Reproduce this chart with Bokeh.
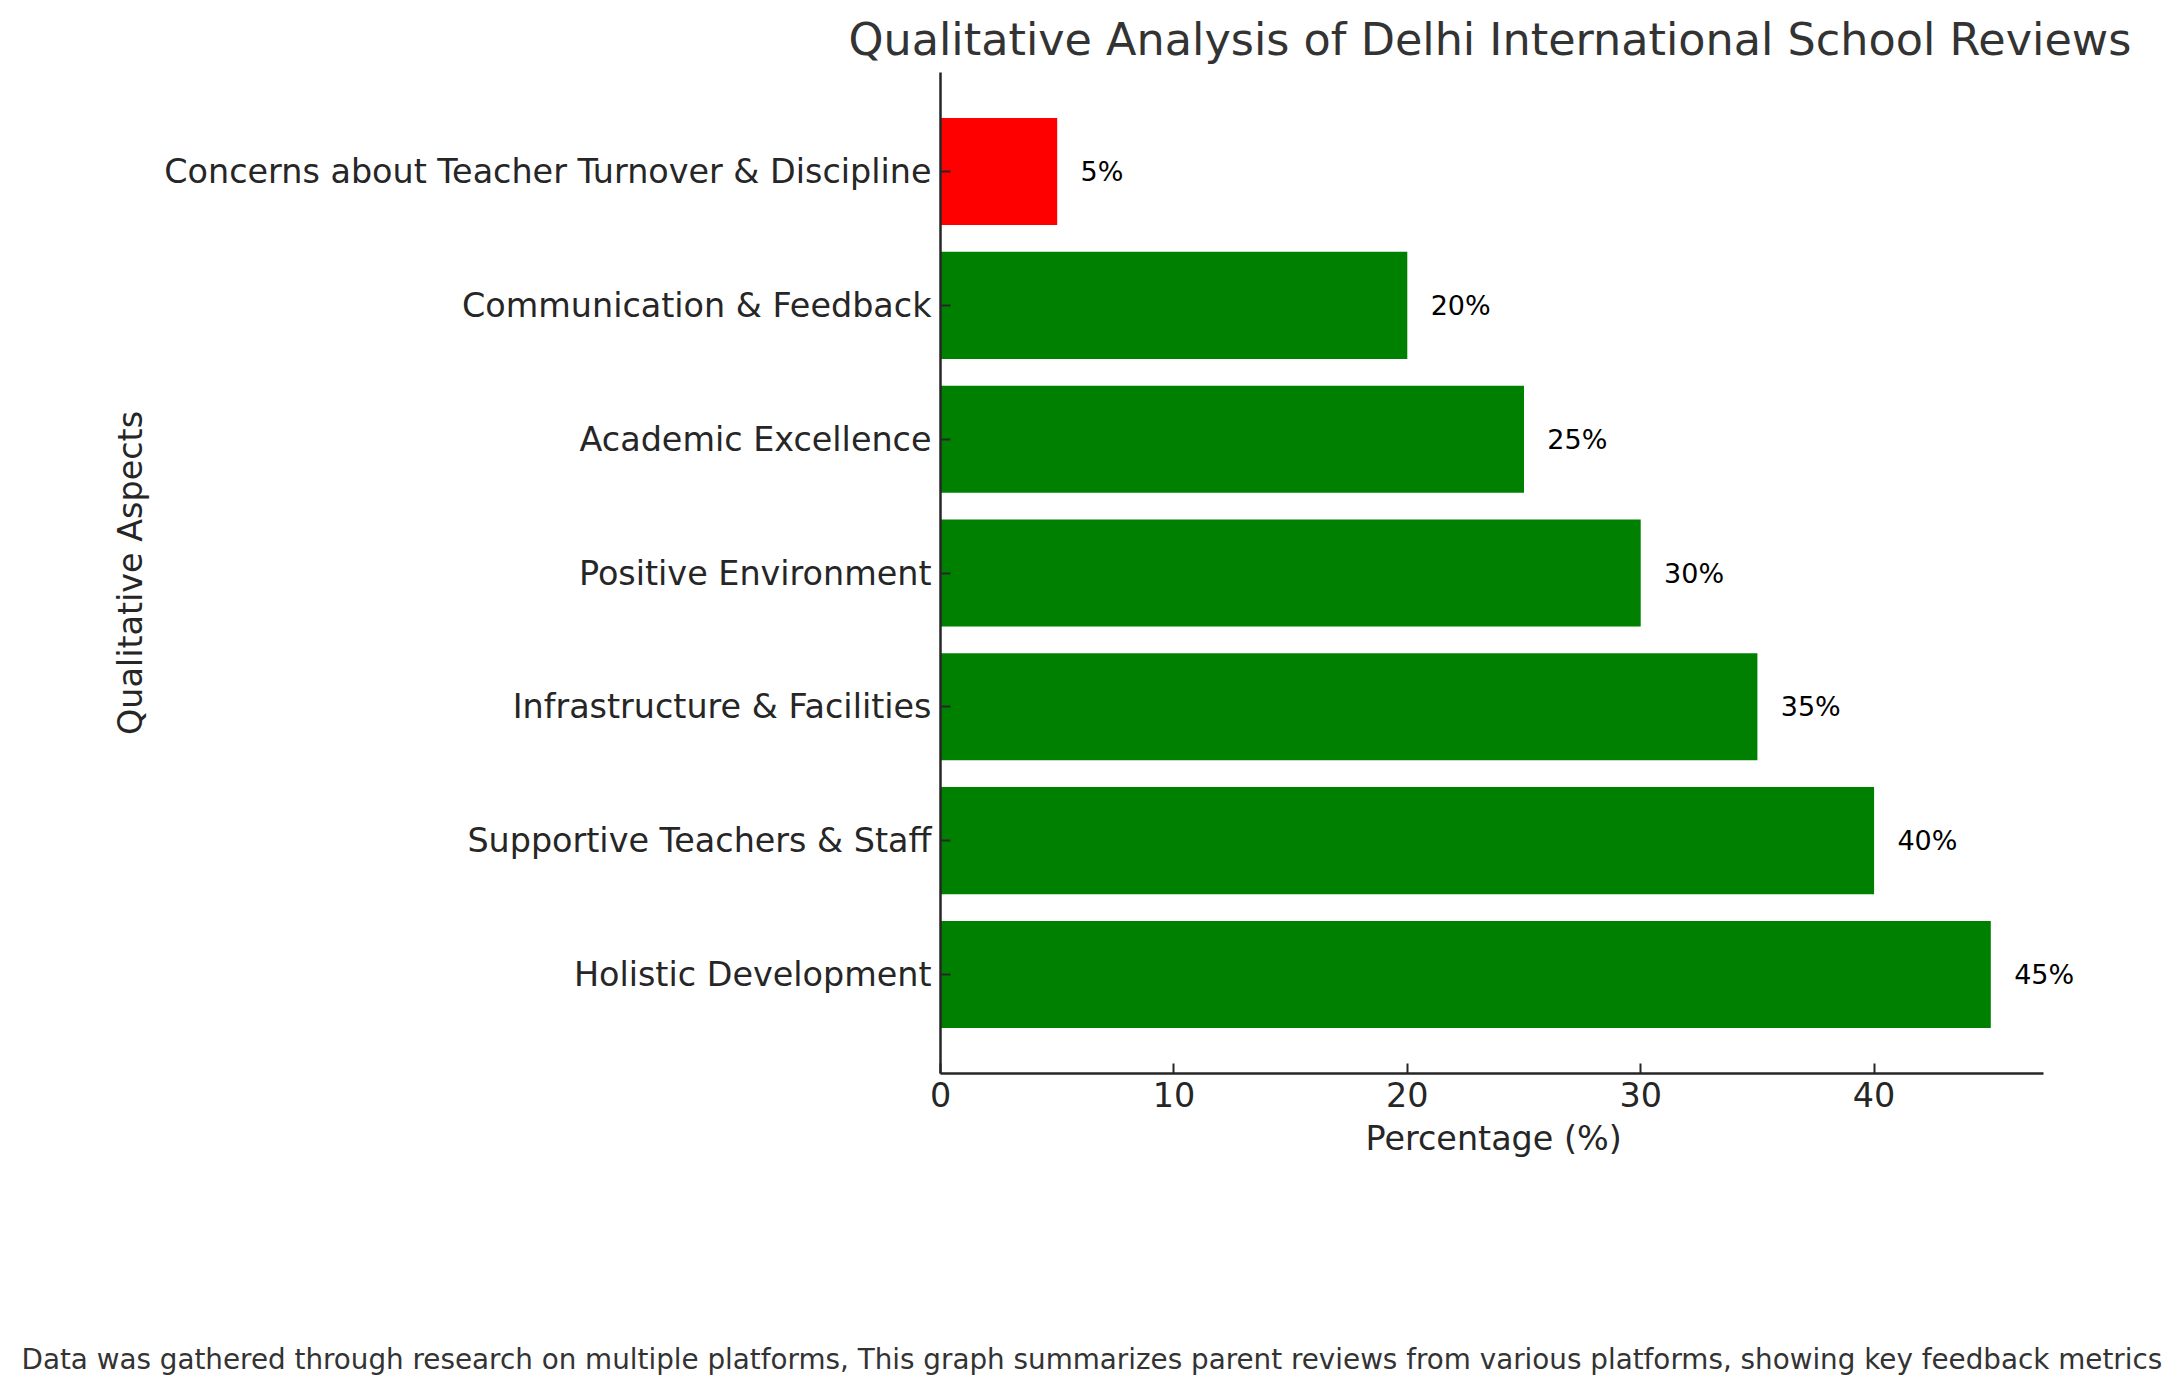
from bokeh.plotting import figure
from bokeh.models import ColumnDataSource, Range1d, FixedTicker, LinearAxis, Title
from bokeh.core.properties import value
from bokeh.embed import file_html
from bokeh.resources import INLINE

# ---- data (bottom to top) ----
categories = [
    "Holistic Development",
    "Supportive Teachers & Staff",
    "Infrastructure & Facilities",
    "Positive Environment",
    "Academic Excellence",
    "Communication & Feedback",
    "Concerns about Teacher Turnover & Discipline",
]
percentages = [45, 40, 35, 30, 25, 20, 5]
bar_colors = ["green", "green", "green", "green", "green", "green", "red"]
x_ticks = [0, 10, 20, 30, 40]

title_text = "Qualitative Analysis of Delhi International School Reviews"
x_label = "Percentage (%)"
y_label = "Qualitative Aspects"
footnote = ("Data was gathered through research on multiple platforms, This graph summarizes "
            "parent reviews from various platforms, showing key feedback metrics")

FONT = "DejaVu Sans"
DARK = "#262626"
TICK_FS = "33.4px"

positions = list(range(len(categories)))
src = ColumnDataSource(dict(
    y=positions,
    value=percentages,
    color=["#008000" if c == "green" else "#ff0000" for c in bar_colors],
    label=[f"{v}%" for v in percentages],
    label_x=[v + 1 for v in percentages],
))

W, H = 2179, 1396
X_END = 50          # frame extends a little past the axis so labels are not clipped
AXIS_END = 47.25    # visible extent of the x axis
FRAME_LEFT = 940
p = figure(width=W, height=H, output_backend="svg", toolbar_location=None,
           x_range=Range1d(0, X_END), y_range=Range1d(-0.74, 6.74),
           min_border_left=FRAME_LEFT, min_border_right=72,
           min_border_top=72, min_border_bottom=323)

p.hbar(y="y", right="value", left=0, height=0.8, fill_color="color",
       line_color=None, source=src)
p.text(x="label_x", y="y", text="label", source=src, text_align="left",
       text_baseline="middle", text_font=value(FONT), text_font_size="27px",
       text_color="black")

# title (left aligned with an offset so it is centred over the visible axis)
p.title.text = title_text
p.title.align = "left"
p.title.offset = 848 - FRAME_LEFT
p.title.text_font = FONT
p.title.text_font_size = "44.5px"
p.title.text_font_style = "normal"
p.title.text_color = "#333333"
p.title.standoff = 16

# axes
for ax in (p.xaxis[0], p.yaxis[0]):
    ax.axis_line_color = DARK
    ax.axis_line_width = 2.5
    ax.major_tick_line_color = DARK
    ax.major_tick_line_width = 2
    ax.major_tick_in = 10
    ax.major_tick_out = 0
    ax.minor_tick_line_color = None
    ax.major_label_text_font = FONT
    ax.major_label_text_font_size = TICK_FS
    ax.major_label_text_color = DARK
    ax.axis_label_text_font = FONT
    ax.axis_label_text_font_size = TICK_FS
    ax.axis_label_text_font_style = "normal"
    ax.axis_label_text_color = DARK

p.xaxis.bounds = (0, AXIS_END)
p.xaxis.ticker = FixedTicker(ticks=x_ticks)
p.xaxis.major_label_standoff = 8

p.yaxis.ticker = FixedTicker(ticks=positions)
p.yaxis.major_label_overrides = {i: c for i, c in zip(positions, categories)}
p.yaxis.axis_label = y_label
p.yaxis.major_label_standoff = 9
p.yaxis.axis_label_standoff = 11

# x-axis label as a below title so it can be centred on the visible axis
xlab = Title(text=x_label, align="left", offset=1365 - FRAME_LEFT,
             vertical_align="top", standoff=18, text_font=FONT,
             text_font_size=TICK_FS, text_font_style="normal", text_color=DARK)
p.add_layout(xlab, "below")

# invisible spacer axis
spacer = LinearAxis(ticker=FixedTicker(ticks=[]), axis_line_color=None,
                    major_tick_line_color=None, minor_tick_line_color=None,
                    major_tick_in=0, major_tick_out=0, major_label_standoff=0,
                    axis_label=" ", axis_label_standoff=170,
                    axis_label_text_font_size="1px")
p.add_layout(spacer, "below")

note = Title(text=footnote, align="left", offset=21 - FRAME_LEFT,
             vertical_align="top", standoff=0, text_font=FONT,
             text_font_size="27.8px", text_font_style="normal", text_color="#333333")
p.add_layout(note, "below")

p.xgrid.grid_line_color = None
p.ygrid.grid_line_color = None
p.outline_line_color = None
p.background_fill_color = "white"
p.border_fill_color = "white"

open("out.html", "w").write(file_html(p, INLINE))
